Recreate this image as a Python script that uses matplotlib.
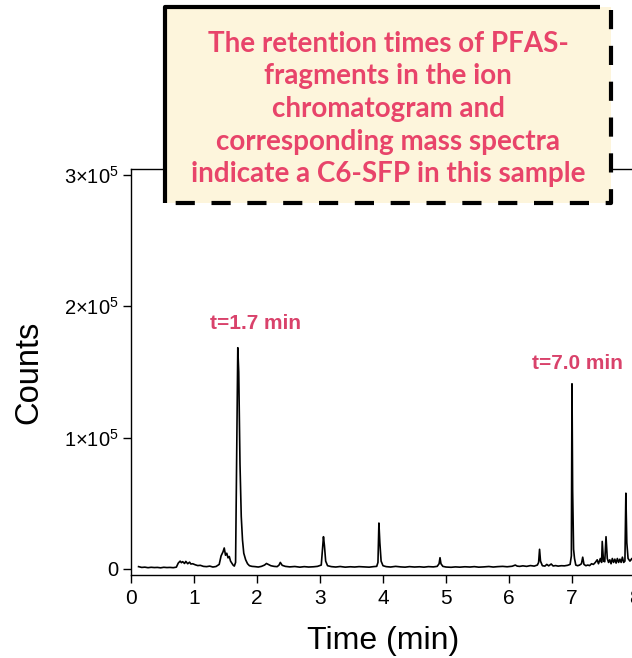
import numpy as np
import matplotlib.pyplot as plt
from matplotlib.ticker import FixedLocator, FixedFormatter

plt.rcParams['font.family'] = 'Liberation Sans'
plt.rcParams['mathtext.fontset'] = 'custom'
plt.rcParams['mathtext.rm'] = 'Liberation Sans'
plt.rcParams['mathtext.it'] = 'Liberation Sans:italic'

#%% Data (time in min, counts in thousands)

time_min = [
    0.12, 0.17, 0.22, 0.27, 0.32, 0.37, 0.42, 0.47, 0.52, 0.57, 0.62, 0.67, 0.72,
    0.75, 0.78, 0.80, 0.82, 0.85, 0.87, 0.90, 0.93, 0.95, 0.98, 1.02, 1.06, 1.10,
    1.15, 1.20, 1.25, 1.30, 1.35, 1.40, 1.43, 1.46, 1.48, 1.50, 1.52, 1.54, 1.56,
    1.58, 1.60, 1.62, 1.64, 1.66, 1.68, 1.695, 1.71, 1.73, 1.75, 1.77, 1.79, 1.82,
    1.85, 1.88, 1.92, 1.97, 2.02, 2.07, 2.12, 2.15, 2.18, 2.22, 2.27, 2.32, 2.35,
    2.37, 2.40, 2.45, 2.52, 2.60, 2.68, 2.75, 2.82, 2.90, 2.96, 3.02, 3.04, 3.055,
    3.07, 3.09, 3.12, 3.18, 3.25, 3.32, 3.40, 3.48, 3.55, 3.62, 3.70, 3.78, 3.85,
    3.90, 3.92, 3.935, 3.95, 3.97, 4.00, 4.05, 4.12, 4.20, 4.28, 4.35, 4.42, 4.50,
    4.58, 4.65, 4.72, 4.80, 4.86, 4.89, 4.905, 4.92, 4.95, 5.00, 5.08, 5.15, 5.22,
    5.30, 5.38, 5.45, 5.52, 5.60, 5.68, 5.75, 5.82, 5.90, 5.97, 6.05, 6.10, 6.13,
    6.17, 6.22, 6.28, 6.34, 6.40, 6.45, 6.47, 6.485, 6.50, 6.53, 6.57, 6.60, 6.63,
    6.67, 6.70, 6.74, 6.78, 6.83, 6.88, 6.93, 6.97, 6.99, 7.00, 7.01, 7.025, 7.04,
    7.06, 7.09, 7.12, 7.15, 7.17, 7.19, 7.22, 7.25, 7.28, 7.31, 7.34, 7.37, 7.40,
    7.42, 7.45, 7.47, 7.48, 7.50, 7.52, 7.54, 7.56, 7.58, 7.60, 7.62, 7.64, 7.66,
    7.68, 7.70, 7.72, 7.74, 7.76, 7.78, 7.80, 7.82, 7.84, 7.855, 7.87, 7.89, 7.92,
    7.95, 7.98, 8.00,
]

counts_k = [
    1.8, 1.2, 1.4, 1.0, 1.3, 1.1, 1.2, 0.9, 1.3, 1.1, 1.2, 1.0, 1.4,
    4.5, 6.0, 4.8, 5.6, 4.2, 5.8, 4.0, 5.2, 3.8, 4.0, 3.2, 2.6, 2.8,
    2.0, 1.8, 2.2, 1.5, 1.9, 3.5, 10.0, 13.0, 16.0, 10.5, 12.0, 8.5, 9.5,
    6.0, 4.5, 3.0, 2.2, 5.0, 100.0, 168.5, 150.0, 80.0, 40.0, 22.0, 12.0, 7.0,
    4.0, 2.5, 2.0, 1.8, 1.5, 2.0, 3.0, 4.2, 3.5, 2.5, 2.0, 1.8, 3.0,
    5.0, 2.8, 2.0, 1.6, 1.9, 1.4, 1.8, 1.5, 1.7, 2.0, 3.0, 15.0, 24.6,
    18.0, 6.0, 2.5, 1.8, 1.5, 1.9, 1.4, 1.7, 1.5, 1.8, 1.6, 1.4, 1.8,
    2.0, 5.0, 35.0, 20.0, 6.0, 2.5, 1.8, 1.5, 2.0, 1.6, 1.4, 1.8, 1.5,
    1.7, 1.4, 1.8, 1.6, 2.0, 4.0, 8.6, 4.0, 2.0, 1.5, 1.3, 1.6, 1.4,
    1.7, 1.5, 1.8, 1.4, 1.6, 1.9, 1.5, 1.8, 2.0, 1.7, 2.1, 3.0, 2.2,
    2.0, 2.4, 2.0, 2.6, 2.2, 3.0, 5.0, 15.0, 6.0, 2.5, 2.2, 3.5, 2.4,
    3.8, 2.3, 2.6, 2.2, 2.5, 2.4, 2.8, 3.5, 10.0, 141.0, 60.0, 15.0, 8.0,
    3.0, 2.5, 3.0, 4.0, 9.0, 3.5, 2.5, 3.0, 2.6, 4.0, 3.5, 5.0, 7.0,
    4.0, 8.0, 5.0, 21.0, 6.0, 5.5, 24.6, 8.0, 5.0, 7.0, 4.0, 8.0, 5.0,
    7.5, 4.5, 8.0, 5.0, 7.5, 5.0, 9.0, 5.0, 6.0, 57.7, 20.0, 8.0, 6.0,
    8.0, 5.0, 6.0,
]

peak_labels = ["t=1.7 min", "t=7.0 min"]
peak_label_x = [1.97, 7.08]     # label centre, min
peak_label_y = [1.866e5, 1.561e5]

y_ticks = [0, 1e5, 2e5, 3e5]
y_ticklabels = ["0", r"$1{\times}10^5$", r"$2{\times}10^5$", r"$3{\times}10^5$"]

note = ("The retention times of PFAS-\nfragments in the ion\nchromatogram and\n"
        "corresponding mass spectra\nindicate a C6-SFP in this sample")

#%% Plot

W, H = 632, 658
fig = plt.figure(figsize=(W / 100, H / 100), dpi=100)
ax = fig.add_axes([131 / W, 83 / H, (635 - 131) / W, 406 / H])

counts = np.array(counts_k) * 1000
ax.plot(time_min, counts, color="black", lw=1.2)

ax.set_xlim(0, 8)
ax.set_ylim(-4570, 3.0457e5)
ax.set_xticks(range(9))
ax.yaxis.set_major_locator(FixedLocator(y_ticks))
ax.yaxis.set_major_formatter(FixedFormatter(y_ticklabels))
ax.tick_params(axis="x", labelsize=15, length=6, width=1, pad=4)
ax.tick_params(axis="y", labelsize=14.5, length=6, width=1, pad=3)
for s in ax.spines.values():
    s.set_linewidth(1)

ax.set_xlabel("Time (min)", fontsize=23, labelpad=13)
ax.set_ylabel("Counts", fontsize=23.5, labelpad=14)

for lab, xx, yy in zip(peak_labels, peak_label_x, peak_label_y):
    ax.text(xx, yy, lab, color="#d9426b", fontsize=15, fontweight="bold",
            ha="center", va="center")

# callout box drawn on a pixel-space overlay
ov = fig.add_axes([0, 0, 1, 1], zorder=5)
ov.set_xlim(0, W)
ov.set_ylim(H, 0)
ov.axis("off")
x0, x1, y0, y1 = 165, 611, 7, 203
ov.fill([x0, x1, x1, x0], [y0, y0, y1, y1], color="#fdf5dc", lw=0)
ov.plot([x0, x0, 600], [y1, y0, y0], color="black", lw=3, solid_capstyle="butt")
ov.plot([x1, x1, x0], [y0 + 3, y1, y1], color="black", lw=3,
        dashes=(4.6, 4.0), solid_capstyle="butt", dash_capstyle="butt")
ov.text((x0 + x1) / 2, 109, note, family="Lato", fontweight="bold",
        fontsize=20, color="#e8446a", ha="center", va="center", linespacing=1.31)

fig.savefig("out.png", dpi=100)
